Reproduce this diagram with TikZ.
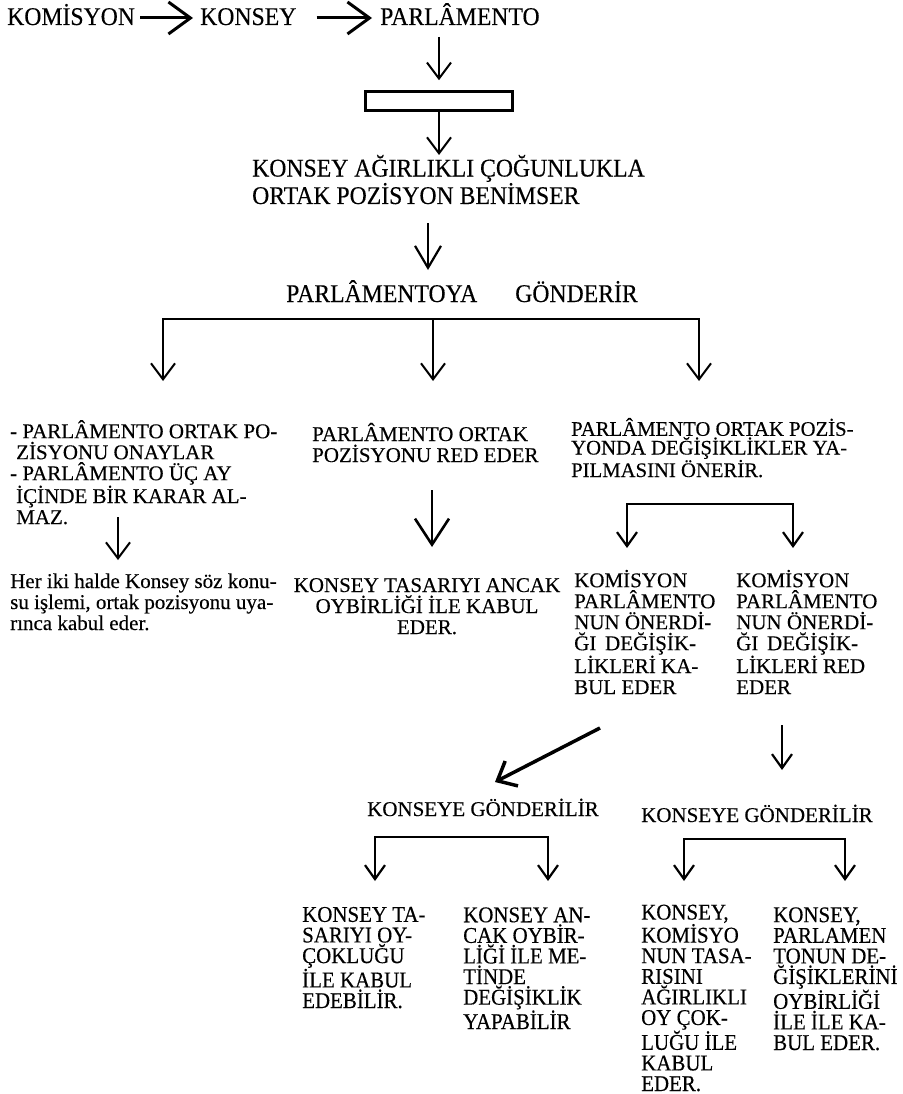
\documentclass[tikz,border=0pt]{standalone}
\usepackage{fontspec}
\setmainfont{Liberation Serif}[FakeBold=0.3]
\newfontfamily\tallfont{Liberation Serif}[FakeStretch=0.93,FakeBold=0.3]
\usepackage{tikz}
\usetikzlibrary{arrows.meta}

\newcommand{\largetxt}{\tallfont\fontsize{25.5}{24}\selectfont}
\newcommand{\midtxt}{\fontsize{21}{21}\selectfont}
\newcommand{\smalltxt}{\fontsize{20.7}{17.5}\selectfont}
\newcommand{\coltxt}{\tallfont\fontsize{22.5}{20.6}\selectfont}

\begin{document}
\begin{tikzpicture}[x=1pt,y=-1pt,
		% multi-line nodes sit on the baseline of their last line
		txt/.style={inner sep=0pt,anchor=base west,align=left,font=\midtxt},
		bar/.style={line width=2.4pt,line cap=rect},
		arr/.style={line width=2pt,-{Straight Barb[length=16pt,width=24pt]}},
		harr/.style={line width=3pt,-{Straight Barb[length=22pt,width=32pt]}},
		marr/.style={line width=2.2pt,-{Straight Barb[length=22pt,width=26pt]}},
		bigarr/.style={line width=2.6pt,-{Straight Barb[length=26pt,width=34pt]}},
		brarr/.style={line width=2.2pt,-{Straight Barb[length=14pt,width=20pt]}},
		darr/.style={line width=3.5pt,-{Straight Barb[length=16pt,width=28pt]}}]
		\useasboundingbox (0,0) rectangle (902,1094);
		
		%top row
		\node[txt,font=\largetxt] (kom) at (7,25) {KOMİSYON};
		\node[txt,font=\largetxt] (kon) at (200,25) {KONSEY};
		\node[txt,font=\largetxt] (parl) at (380,25) {PARLÂMENTO};
		\draw[harr] ([shift={(5,-7)}]kom.base east) -- ([shift={(-7,-7)}]kon.base west);
		\draw[harr] ([shift={(20,-7)}]kon.base east) -- ([shift={(-8,-7)}]parl.base west);
		
		%empty box
		\node[draw,line width=2.6pt,minimum width=147pt,minimum height=19pt,inner sep=0pt] (box) at (439,101) {};
		\draw[arr] ([shift={(59,12)}]parl.base west) -- ([yshift=10pt]box.north);
		
		\node[txt,font=\largetxt] (adopt) at (252,204) {KONSEY AĞIRLIKLI ÇOĞUNLUKLA\\ORTAK POZİSYON BENİMSER};
		\draw[arr] (box.south) -- ([shift={(187,-49)}]adopt.base west);
		
		\node[txt,font=\largetxt] (gonder) at (286,302) {PARLÂMENTOYA\hspace{38pt}GÖNDERİR};
		\draw[marr] ([shift={(176,19)}]adopt.base west) -- ([shift={(142,-32)}]gonder.base west);
		
		%three ways
		\coordinate (splitL) at (163,319);
		\coordinate (splitM) at (433,319);
		\coordinate (splitR) at (699,319);
		\draw[bar] (splitL) -- (splitR);
		\foreach \c in {splitL,splitM,splitR}
			\draw[arr] (\c) -- ++(0,62);
		
		%left
		\node[txt] (onay) at (10,524) {- PARLÂMENTO ORTAK PO-\\\hspace*{6pt}ZİSYONU ONAYLAR\\- PARLÂMENTO ÜÇ AY\\\hspace*{6pt}İÇİNDE BİR KARAR AL-\\\hspace*{6pt}MAZ.};
		\node[txt] (herkiki) at (10,630) {Her iki halde Konsey söz konu-\\su işlemi, ortak pozisyonu uya-\\rınca kabul eder.};
		\draw[arr] ([shift={(108,-7)}]onay.base west) -- ([shift={(108,-70)}]herkiki.base west);
		
		%middle
		\node[txt] (red) at (312,462) {PARLÂMENTO ORTAK\\POZİSYONU RED EDER};
		\node[txt,anchor=base,align=center] (oybir) at (427,634) {KONSEY TASARIYI ANCAK\\OYBİRLİĞİ İLE KABUL\\EDER.};
		\draw[bigarr] ([shift={(120,28)}]red.base west) -- ([shift={(5,-87)}]oybir.base);
		
		%right
		\node[txt,font=\smalltxt] (oner) at (571,477) {PARLÂMENTO ORTAK POZİS-\\YONDA DEĞİŞİKLİKLER YA-\\PILMASINI ÖNERİR.};
		\coordinate (splitA) at (627,504);
		\coordinate (splitB) at (793,504);
		\draw[bar] (splitA) -- (splitB);
		\foreach \c in {splitA,splitB}
			\draw[brarr] (\c) -- ++(0,44);
		\node[txt] (kabA) at (574,694) {KOMİSYON\\PARLÂMENTO\\NUN ÖNERDİ-\\ĞI\, DEĞİŞİK-\\LİKLERİ KA-\\BUL EDER};
		\node[txt] (redB) at (736,694) {KOMİSYON\\PARLÂMENTO\\NUN ÖNERDİ-\\ĞI\, DEĞİŞİK-\\LİKLERİ RED\\EDER};
		
		%to council
		\node[txt] (sendL) at (367,816) {KONSEYE GÖNDERİLİR};
		\node[txt] (sendR) at (641,822) {KONSEYE GÖNDERİLİR};
		\draw[darr] ([shift={(26,34)}]kabA.base west) -- ([shift={(128,-34)}]sendL.base west);
		\draw[brarr] ([shift={(46,31)}]redB.base west) -- ([shift={(141,-52)}]sendR.base west);
		
		\coordinate (splitC) at (375,837);
		\coordinate (splitD) at (548,837);
		\coordinate (splitE) at (684,839);
		\coordinate (splitF) at (845,839);
		\draw[bar] (splitC) -- (splitD);
		\draw[bar] (splitE) -- (splitF);
		\foreach \c in {splitC,splitD}
			\draw[brarr] (\c) -- ++(0,44);
		\foreach \c in {splitE,splitF}
			\draw[brarr] (\c) -- ++(0,42);
		
		%last row
		\node[txt,font=\coltxt] (tasA) at (302,1008) {KONSEY TA-\\SARIYI OY-\\ÇOKLUĞU\\İLE KABUL\\EDEBİLİR.};
		\node[txt,font=\coltxt] (ancak) at (463,1029) {KONSEY AN-\\CAK OYBİR-\\LİĞİ İLE ME-\\TİNDE\\DEĞİŞİKLİK\\YAPABİLİR};
		\node[txt,font=\coltxt] (komB) at (641,1091) {KONSEY,\\KOMİSYO\\NUN TASA-\\RISINI\\AĞIRLIKLI\\OY ÇOK-\\LUĞU İLE\\KABUL\\EDER.};
		\node[txt,font=\coltxt] (parlB) at (773,1050) {KONSEY,\\PARLAMEN\\TONUN DE-\\ĞİŞİKLERİNİ\\OYBİRLİĞİ\\İLE İLE KA-\\BUL EDER.};
		
\end{tikzpicture}
\end{document}
